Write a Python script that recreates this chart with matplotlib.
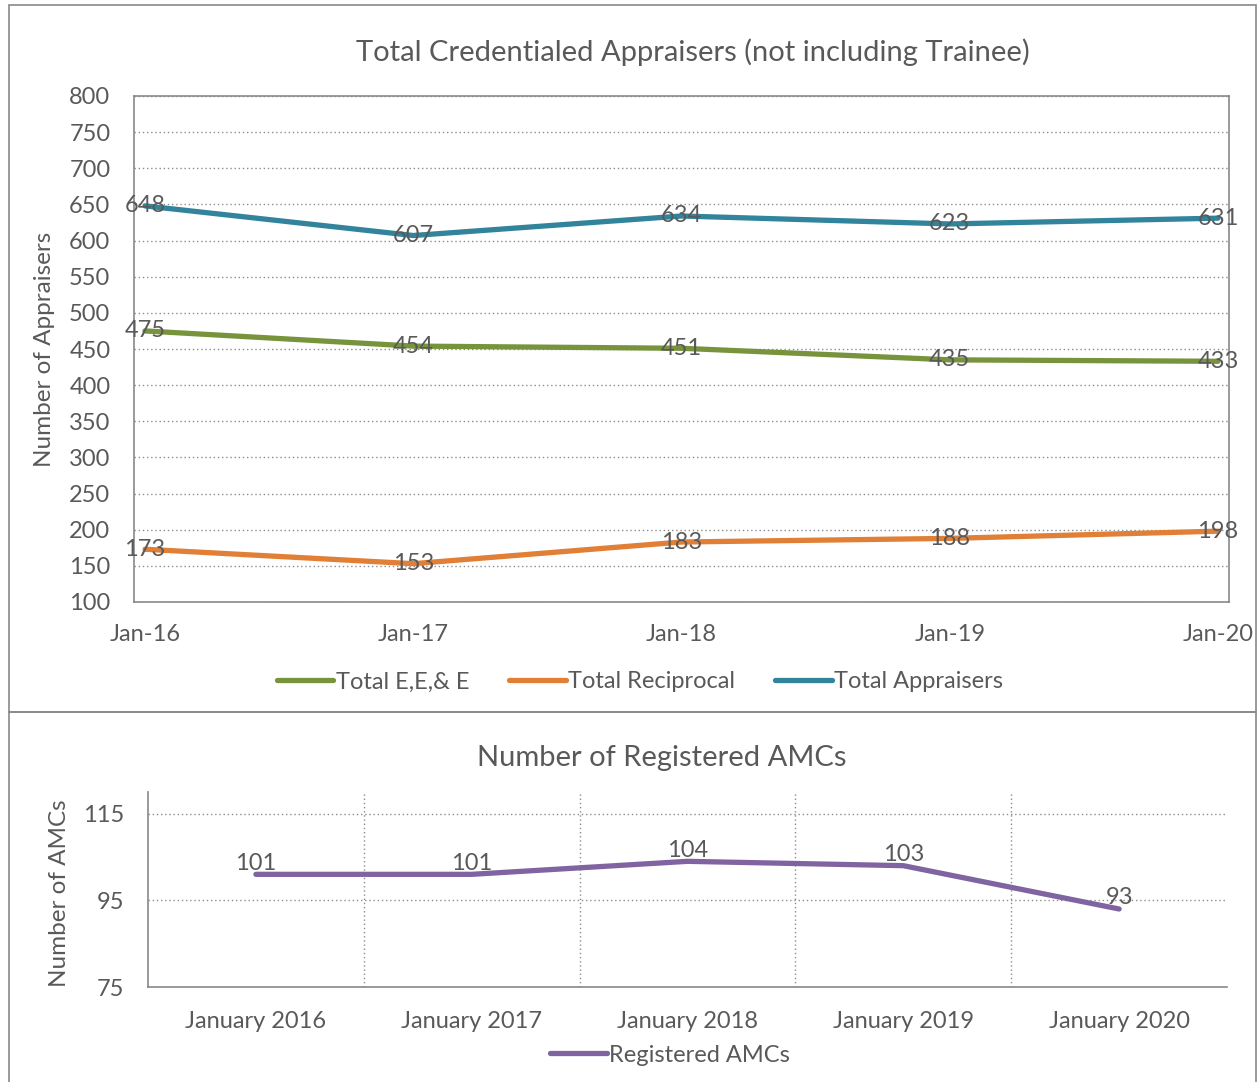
import matplotlib.pyplot as plt
from matplotlib.patches import Rectangle

# data for the top chart
dates = ["Jan-16", "Jan-17", "Jan-18", "Jan-19", "Jan-20"]
eee = [475, 454, 451, 435, 433]
reciprocal = [173, 153, 183, 188, 198]
appraisers = [648, 607, 634, 623, 631]

# data for the bottom chart
months = ["January 2016", "January 2017", "January 2018", "January 2019", "January 2020"]
amcs = [101, 101, 104, 103, 93]

plt.rcParams['font.family'] = ['Lato', 'DejaVu Sans']
txt = '#595959'
edge = '#898989'
grid = '#8c8c8c'
fs = 17

W, H = 1258, 1082
fig = plt.figure(figsize=(W / 100, H / 100), dpi=100)

# panel borders
fig.patches.append(Rectangle((9 / W, 1 - 712 / H), 1247 / W, 707 / H, transform=fig.transFigure,
                             fill=False, edgecolor=edge, linewidth=1.2))
fig.patches.append(Rectangle((9 / W, -0.01), 1247 / W, 0.01 + 1 - 712 / H, transform=fig.transFigure,
                             fill=False, edgecolor=edge, linewidth=1.2))

# ---- top chart ----
ax = fig.add_axes([134 / W, 1 - 602 / H, 1095 / W, 506 / H])
x = list(range(len(dates)))
series = [(eee, '#77933C', 'Total E,E,& E'),
          (reciprocal, '#E07F35', 'Total Reciprocal'),
          (appraisers, '#31849B', 'Total Appraisers')]
for vals, col, name in series:
    ax.plot(x, vals, color=col, linewidth=3.8, label=name, solid_capstyle='round')
    for xi, v in zip(x, vals):
        ax.text(xi, v, str(v), ha='center', va='center', fontsize=fs, color=txt)

ax.set_xlim(-0.041, 4.041)
ax.set_ylim(100, 800)
ax.set_yticks(range(100, 801, 50))
ax.set_xticks(x)
ax.set_xticklabels(dates)
ax.tick_params(length=0, labelsize=fs, labelcolor=txt)
ax.tick_params(axis='y', pad=17)
ax.tick_params(axis='x', pad=16)
ax.grid(axis='y', linestyle=(0, (1, 2)), color=grid, linewidth=1)
for s in ax.spines.values():
    s.set_color(edge)
    s.set_linewidth(1.2)

fig.text(693 / W, 1 - 52 / H, "Total Credentialed Appraisers (not including Trainee)",
         ha='center', va='center', fontsize=21, color=txt)
fig.text(45 / W, 1 - 349 / H, "Number of Appraisers", rotation=90,
         ha='center', va='center', fontsize=17.5, color=txt)
fig.legend(loc='center', bbox_to_anchor=(640 / W, 1 - 682 / H), ncol=3, frameon=False,
           fontsize=fs, handlelength=2.4, handletextpad=0.1, columnspacing=1.7,
           labelcolor=txt)

# ---- bottom chart ----
ax2 = fig.add_axes([148 / W, 1 - 987 / H, 1079 / W, 195 / H])
x2 = list(range(len(months)))
ax2.plot(x2, amcs, color='#8064A2', linewidth=3.8, label='Registered AMCs', solid_capstyle='round')
for xi, v in zip(x2, amcs):
    ax2.annotate(str(v), (xi, v), xytext=(0, 8), textcoords='offset points',
                 ha='center', va='center', fontsize=fs, color=txt)

ax2.set_xlim(-0.5, 4.5)
ax2.set_ylim(75, 120)
ax2.set_yticks([75, 95, 115])
ax2.set_xticks(x2)
ax2.set_xticklabels(months)
ax2.set_xticks([0.5, 1.5, 2.5, 3.5], minor=True)
ax2.tick_params(length=0, labelsize=fs, labelcolor=txt)
ax2.tick_params(which='minor', length=0)
ax2.tick_params(axis='y', pad=17)
ax2.tick_params(axis='x', pad=17)
ax2.grid(axis='y', linestyle=(0, (1, 2)), color=grid, linewidth=1)
ax2.grid(axis='x', which='minor', linestyle=(0, (1, 2)), color=grid, linewidth=1)
ax2.spines['top'].set_visible(False)
ax2.spines['right'].set_visible(False)
for s in ['left', 'bottom']:
    ax2.spines[s].set_color(edge)
    ax2.spines[s].set_linewidth(1.2)

fig.text(662 / W, 1 - 758 / H, "Number of Registered AMCs",
         ha='center', va='center', fontsize=21, color=txt)
fig.text(60 / W, 1 - 893 / H, "Number of AMCs", rotation=90,
         ha='center', va='center', fontsize=17.5, color=txt)
ax2.legend(loc='center', bbox_to_anchor=(670 / W, 1 - 1055 / H), bbox_transform=fig.transFigure,
           frameon=False, fontsize=fs, handlelength=2.4, handletextpad=0.1, labelcolor=txt)

fig.savefig("out.png", dpi=100)
